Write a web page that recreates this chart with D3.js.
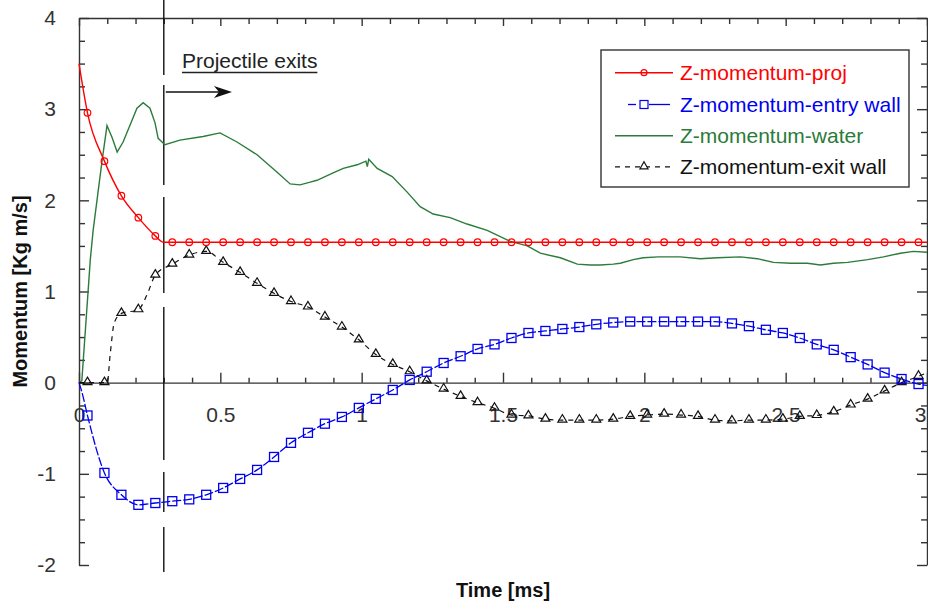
<!DOCTYPE html>
<html>
<head>
<meta charset="utf-8">
<script src="https://cdn.jsdelivr.net/npm/d3@7"></script>
<style>
  body { margin: 0; background: #fff; }
  svg { display: block; font-family: "Liberation Sans", Arial, sans-serif; }
</style>
</head>
<body>
<div id="chart"></div>
<script>
// marker times (ms), shared by the three marked series
var markerT = [0.03, 0.09, 0.15, 0.21, 0.27, 0.33, 0.39, 0.45, 0.51, 0.57,
               0.63, 0.69, 0.75, 0.81, 0.87, 0.93, 0.99, 1.05, 1.11, 1.17,
               1.23, 1.29, 1.35, 1.41, 1.47, 1.53, 1.59, 1.65, 1.71, 1.77,
               1.83, 1.89, 1.95, 2.01, 2.07, 2.13, 2.19, 2.25, 2.31, 2.37,
               2.43, 2.49, 2.55, 2.61, 2.67, 2.73, 2.79, 2.85, 2.91, 2.97];

var projV = [2.96, 2.43, 2.05, 1.81, 1.61, 1.54, 1.54, 1.54, 1.54, 1.54,
             1.54, 1.54, 1.54, 1.54, 1.54, 1.54, 1.54, 1.54, 1.54, 1.54,
             1.54, 1.54, 1.54, 1.54, 1.54, 1.54, 1.54, 1.54, 1.54, 1.54,
             1.54, 1.54, 1.54, 1.54, 1.54, 1.54, 1.54, 1.54, 1.54, 1.54,
             1.54, 1.54, 1.54, 1.54, 1.54, 1.54, 1.54, 1.54, 1.54, 1.54];
var projExtra = [[0, 3.5], [0.30, 1.54], [3.0, 1.54]];

var entryV = [-0.36, -0.99, -1.23, -1.34, -1.32, -1.30, -1.28, -1.23, -1.155, -1.056,
              -0.957, -0.815, -0.66, -0.55, -0.45, -0.376, -0.277, -0.178, -0.08, 0.03,
              0.12, 0.216, 0.29, 0.37, 0.42, 0.49, 0.545, 0.567, 0.589, 0.61,
              0.64, 0.66, 0.67, 0.67, 0.67, 0.67, 0.67, 0.67, 0.65, 0.62,
              0.58, 0.545, 0.49, 0.42, 0.36, 0.28, 0.20, 0.11, 0.04, -0.015];
var entryExtra = [[0, 0], [0.01, -0.1], [3.0, -0.03]];

var exitV = [0, 0, 0.76, 0.80, 1.18, 1.30, 1.40, 1.44, 1.32, 1.21,
             1.09, 0.98, 0.89, 0.83, 0.72, 0.61, 0.47, 0.31, 0.20, 0.12,
             0.02, -0.07, -0.15, -0.22, -0.28, -0.355, -0.365, -0.40, -0.41, -0.41,
             -0.41, -0.40, -0.37, -0.355, -0.345, -0.355, -0.37, -0.41, -0.42, -0.41,
             -0.41, -0.40, -0.37, -0.36, -0.32, -0.245, -0.18, -0.09, 0.0, 0.07];
var exitExtra = [[0, 0], [0.10, 0], [0.11, 0.3], [0.125, 0.66], [0.24, 0.96], [3.0, 0.11]];

var waterT = [0, 0.01, 0.04, 0.05, 0.081, 0.099, 0.117, 0.135, 0.156, 0.188,
              0.205, 0.227, 0.251, 0.269, 0.28, 0.304, 0.357, 0.439, 0.499, 0.559,
              0.63, 0.70, 0.747, 0.782, 0.818, 0.842, 0.899, 0.935, 0.984, 1.015,
              1.02, 1.025, 1.055, 1.108, 1.161, 1.207, 1.253, 1.313, 1.373, 1.444,
              1.526, 1.586, 1.632, 1.703, 1.763, 1.809, 1.844, 1.89, 1.915, 1.961,
              1.996, 2.05, 2.127, 2.198, 2.258, 2.34, 2.40, 2.457, 2.517, 2.577,
              2.623, 2.669, 2.719, 2.79, 2.846, 2.906, 2.952, 3.0];
var waterV = [0, 0.02, 1.35, 1.67, 2.42, 2.82, 2.69, 2.53, 2.64, 2.88,
              3.01, 3.07, 3.01, 2.85, 2.68, 2.61, 2.66, 2.70, 2.74, 2.64,
              2.50, 2.31, 2.18, 2.17, 2.20, 2.22, 2.30, 2.35, 2.39, 2.43,
              2.37, 2.45, 2.35, 2.26, 2.09, 1.93, 1.85, 1.81, 1.74, 1.67,
              1.55, 1.50, 1.42, 1.37, 1.30, 1.29, 1.29, 1.30, 1.31, 1.35,
              1.37, 1.38, 1.38, 1.36, 1.37, 1.38, 1.36, 1.32, 1.31, 1.31,
              1.29, 1.31, 1.32, 1.35, 1.38, 1.42, 1.44, 1.43];

var xTicks = [0, 0.5, 1, 1.5, 2, 2.5, 3];
var yTicks = [-2, -1, 0, 1, 2, 3, 4];
var exitTime = 0.3;

var seriesNames = ["Z-momentum-proj", "Z-momentum-entry wall", "Z-momentum-water", "Z-momentum-exit wall"];
var seriesColors = ["#ff0000", "#0000f0", "#2b7b3a", "#111111"];

(function() {
  var outerWidth = 928, outerHeight = 607;
  var left = 79, right = 927, top = 18, bottom = 565;

  var svg = d3.select("#chart").append("svg")
      .attr("width", outerWidth)
      .attr("height", outerHeight);

  var x = d3.scaleLinear().domain([0, 3]).range([left, right]);
  var y = d3.scaleLinear().domain([-2, 4]).range([bottom, top]);

  var xMinor = d3.range(0, 3.001, 0.1).map(d => +d.toFixed(1)).filter(d => xTicks.indexOf(d) < 0);
  var yMinor = d3.range(-2, 4.001, 0.25).filter(d => yTicks.indexOf(d) < 0);

  function styleAxis(g) {
    g.selectAll("path, line").attr("stroke", "#333").attr("stroke-width", 1.4);
    g.selectAll("text").attr("fill", "#333").attr("font-size", "21px")
        .attr("font-family", "'Liberation Sans', Arial, sans-serif");
  }

  // left
  svg.append("g").attr("transform", "translate(" + left + ",0)")
      .call(d3.axisLeft(y).tickValues(yTicks).tickSizeInner(-10).tickSizeOuter(0)
        .tickPadding(23).tickFormat(d => String(d)))
      .call(styleAxis);
  svg.append("g").attr("transform", "translate(" + left + ",0)")
      .call(d3.axisLeft(y).tickValues(yMinor).tickSizeInner(-6).tickSizeOuter(0).tickFormat(""))
      .call(g => g.select(".domain").remove())
      .call(styleAxis);

  // right
  svg.append("g").attr("transform", "translate(" + right + ",0)")
      .call(d3.axisRight(y).tickValues(yTicks).tickSizeInner(-10).tickSizeOuter(0).tickFormat(""))
      .call(styleAxis);
  svg.append("g").attr("transform", "translate(" + right + ",0)")
      .call(d3.axisRight(y).tickValues(yMinor).tickSizeInner(-6).tickSizeOuter(0).tickFormat(""))
      .call(g => g.select(".domain").remove())
      .call(styleAxis);

  // top
  svg.append("g").attr("transform", "translate(0," + top + ")")
      .call(d3.axisTop(x).tickValues(xTicks).tickSizeInner(-8).tickSizeOuter(0).tickFormat(""))
      .call(styleAxis);
  svg.append("g").attr("transform", "translate(0," + top + ")")
      .call(d3.axisTop(x).tickValues(xMinor).tickSizeInner(-6).tickSizeOuter(0).tickFormat(""))
      .call(g => g.select(".domain").remove())
      .call(styleAxis);

  // x axis sits on zero; last label pulled inside the page edge
  svg.append("g").attr("transform", "translate(0," + y(0) + ")")
      .call(d3.axisBottom(x).tickValues(xTicks).tickSizeInner(-10).tickSizeOuter(0)
        .tickPadding(24).tickFormat(d => String(d)))
      .call(styleAxis)
      .call(g => g.selectAll(".tick text").filter(d => d === 3)
        .attr("text-anchor", "end").attr("dx", -1));
  svg.append("g").attr("transform", "translate(0," + y(0) + ")")
      .call(d3.axisBottom(x).tickValues(xMinor).tickSizeInner(-5).tickSizeOuter(0).tickFormat(""))
      .call(g => g.select(".domain").remove())
      .call(styleAxis);

  // axis titles
  svg.append("text")
      .attr("x", (left + right) / 2)
      .attr("y", 597)
      .attr("text-anchor", "middle")
      .attr("font-size", "20px")
      .attr("font-weight", "bold")
      .attr("fill", "#111")
      .text("Time [ms]");

  svg.append("text")
      .attr("transform", "translate(27," + (top + bottom) / 2 + ") rotate(-90)")
      .attr("text-anchor", "middle")
      .attr("font-size", "20px")
      .attr("font-weight", "bold")
      .attr("fill", "#111")
      .text("Momentum [Kg m/s]");

  // projectile exit marker line
  svg.append("line")
      .attr("x1", x(exitTime)).attr("x2", x(exitTime))
      .attr("y1", 0).attr("y2", 572)
      .attr("stroke", "#111")
      .attr("stroke-width", 1.4)
      .attr("stroke-dasharray", "75,10,100,12,96,14,153,12,40,15,45");

  svg.append("line")
      .attr("x1", x(exitTime) + 2).attr("x2", 222)
      .attr("y1", 92).attr("y2", 92)
      .attr("stroke", "#111")
      .attr("stroke-width", 1.4);
  svg.append("path")
      .attr("d", "M232,92L214,86L219,92L214,98Z")
      .attr("fill", "#111");

  var note = svg.append("text")
      .attr("x", 182)
      .attr("y", 68)
      .attr("font-size", "21px")
      .attr("fill", "#222")
      .text("Projectile exits");
  svg.append("line")
      .attr("x1", 182).attr("x2", 182 + note.node().getComputedTextLength())
      .attr("y1", 72.5).attr("y2", 72.5)
      .attr("stroke", "#222")
      .attr("stroke-width", 1.3);

  var line = d3.line()
      .x(d => x(d[0]))
      .y(d => y(d[1]))
      .curve(d3.curveMonotoneX);

  function pts(vals, extra) {
    return markerT.map((t, i) => [t, vals[i]]).concat(extra).sort((a, b) => a[0] - b[0]);
  }
  function marks(vals) {
    return markerT.map((t, i) => [t, vals[i]]);
  }

  var plot = svg.append("g");

  // water
  plot.append("path")
      .datum(waterT.map((t, i) => [t, waterV[i]]))
      .attr("d", d3.line().x(d => x(d[0])).y(d => y(d[1])))
      .attr("fill", "none")
      .attr("stroke", seriesColors[2])
      .attr("stroke-width", 1.4);

  // exit wall
  plot.append("path")
      .datum(pts(exitV, exitExtra))
      .attr("d", line)
      .attr("fill", "none")
      .attr("stroke", seriesColors[3])
      .attr("stroke-width", 1.2)
      .attr("stroke-dasharray", "5,5");

  var tri = "M0,-4.5L4.5,3L-4.5,3Z";
  plot.append("g").selectAll("path")
      .data(marks(exitV))
    .enter().append("path")
      .attr("transform", d => "translate(" + x(d[0]) + "," + (y(d[1]) - 1) + ")")
      .attr("d", tri)
      .attr("fill", "none")
      .attr("stroke", seriesColors[3])
      .attr("stroke-width", 1.2);

  // entry wall
  plot.append("path")
      .datum(pts(entryV, entryExtra))
      .attr("d", line)
      .attr("fill", "none")
      .attr("stroke", seriesColors[1])
      .attr("stroke-width", 1.3)
      .attr("stroke-dasharray", "9,2");

  plot.append("g").selectAll("rect")
      .data(marks(entryV))
    .enter().append("rect")
      .attr("x", d => x(d[0]) - 4.5)
      .attr("y", d => y(d[1]) - 4.5)
      .attr("width", 9)
      .attr("height", 9)
      .attr("fill", "none")
      .attr("stroke", seriesColors[1])
      .attr("stroke-width", 1.3);

  // projectile
  plot.append("path")
      .datum(pts(projV, projExtra))
      .attr("d", line)
      .attr("fill", "none")
      .attr("stroke", seriesColors[0])
      .attr("stroke-width", 1.4);

  plot.append("g").selectAll("circle")
      .data(marks(projV))
    .enter().append("circle")
      .attr("cx", d => x(d[0]))
      .attr("cy", d => y(d[1]))
      .attr("r", 3.3)
      .attr("fill", "none")
      .attr("stroke", seriesColors[0])
      .attr("stroke-width", 1.2);

  // legend
  var legend = svg.append("g");
  legend.append("rect")
      .attr("x", 601).attr("y", 50)
      .attr("width", 308).attr("height", 137)
      .attr("fill", "#fff")
      .attr("stroke", "#333")
      .attr("stroke-width", 1.4);

  var rowY = [72.7, 104.5, 135.8, 166.8];
  var lx0 = 615, lx1 = 673, lm = 644;

  seriesNames.forEach(function(name, i) {
    legend.append("text")
        .attr("x", 680)
        .attr("y", rowY[i] + 7.5)
        .attr("font-size", "21px")
        .attr("fill", seriesColors[i])
        .text(name);
  });

  legend.append("line")
      .attr("x1", lx0).attr("x2", lx1).attr("y1", rowY[0]).attr("y2", rowY[0])
      .attr("stroke", seriesColors[0]).attr("stroke-width", 1.4);
  legend.append("circle")
      .attr("cx", lm).attr("cy", rowY[0]).attr("r", 3)
      .attr("fill", "none").attr("stroke", seriesColors[0]).attr("stroke-width", 1.2);

  legend.append("line")
      .attr("x1", 628).attr("x2", 636).attr("y1", rowY[1]).attr("y2", rowY[1])
      .attr("stroke", seriesColors[1]).attr("stroke-width", 1.3);
  legend.append("line")
      .attr("x1", 649).attr("x2", 670).attr("y1", rowY[1]).attr("y2", rowY[1])
      .attr("stroke", seriesColors[1]).attr("stroke-width", 1.3);
  legend.append("rect")
      .attr("x", lm - 4).attr("y", rowY[1] - 4).attr("width", 8).attr("height", 8)
      .attr("fill", "none").attr("stroke", seriesColors[1]).attr("stroke-width", 1.2);

  legend.append("line")
      .attr("x1", lx0).attr("x2", lx1).attr("y1", rowY[2]).attr("y2", rowY[2])
      .attr("stroke", seriesColors[2]).attr("stroke-width", 1.4);

  legend.append("line")
      .attr("x1", lx0).attr("x2", lx1).attr("y1", rowY[3]).attr("y2", rowY[3])
      .attr("stroke", seriesColors[3]).attr("stroke-width", 1.2)
      .attr("stroke-dasharray", "5,5");
  legend.append("path")
      .attr("transform", "translate(" + lm + "," + (rowY[3] - 1) + ")")
      .attr("d", "M0,-4L4,3L-4,3Z")
      .attr("fill", "#fff").attr("stroke", seriesColors[3]).attr("stroke-width", 1.2);
})();
</script>
</body>
</html>
